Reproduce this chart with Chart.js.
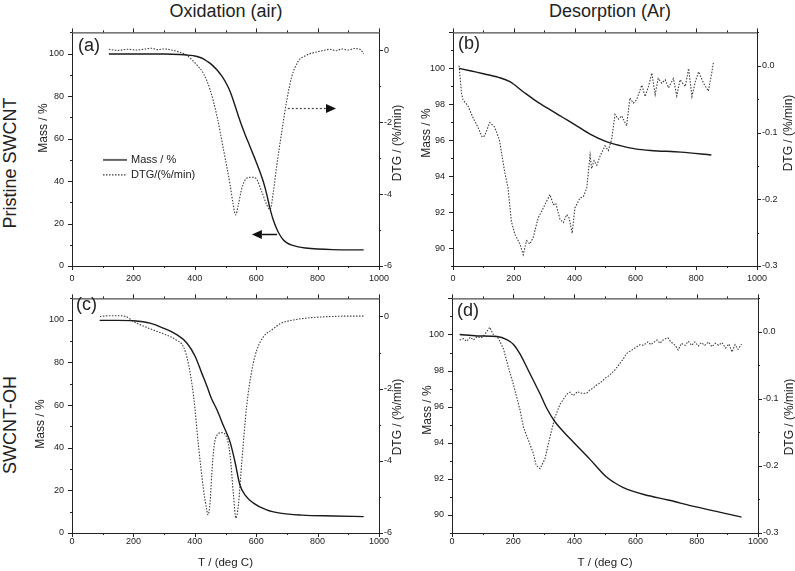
<!DOCTYPE html>
<html>
<head>
<meta charset="utf-8">
<title>TGA / DTG</title>
<script src="https://cdn.jsdelivr.net/npm/chart.js@4.4.1/dist/chart.umd.min.js"></script>
<style>
    body { margin: 0; background: #fff; }
    #page { position: relative; width: 795px; height: 571px; overflow: hidden; font-family: "Liberation Sans", Arial, sans-serif; color: #222; }
    #page canvas { position: absolute; }
    .lbl { position: absolute; white-space: nowrap; line-height: 1; }
    .rot { transform: translate(-50%, -50%) rotate(-90deg); }
    .ctr { transform: translate(-50%, -50%); }
</style>
</head>
<body>
<div id="page">
    <canvas id="chartA" width="390" height="264" style="left:20px;top:22px"></canvas>
    <canvas id="chartB" width="383" height="264" style="left:412px;top:22px"></canvas>
    <canvas id="chartC" width="390" height="283" style="left:20px;top:288px"></canvas>
    <canvas id="chartD" width="383" height="283" style="left:412px;top:288px"></canvas>

    <div class="lbl ctr" style="left:226px;top:11px;font-size:18px">Oxidation (air)</div>
    <div class="lbl ctr" style="left:610px;top:11px;font-size:18px">Desorption (Ar)</div>
    <div class="lbl rot" style="left:10px;top:163px;font-size:18px">Pristine SWCNT</div>
    <div class="lbl rot" style="left:10px;top:425px;font-size:18px">SWCNT-OH</div>

    <div class="lbl rot" style="left:43px;top:128px;font-size:12px">Mass / %</div>
    <div class="lbl rot" style="left:397px;top:143px;font-size:12px">DTG / (%/min)</div>
    <div class="lbl rot" style="left:426px;top:133px;font-size:12px">Mass / %</div>
    <div class="lbl rot" style="left:788px;top:133px;font-size:12px">DTG / (%/min)</div>
    <div class="lbl rot" style="left:40px;top:424px;font-size:12px">Mass / %</div>
    <div class="lbl rot" style="left:397px;top:417px;font-size:12px">DTG / (%/min)</div>
    <div class="lbl rot" style="left:427px;top:410px;font-size:12px">Mass / %</div>
    <div class="lbl rot" style="left:789px;top:417px;font-size:12px">DTG / (%/min)</div>

    <div class="lbl" style="left:78px;top:36px;font-size:18px">(a)</div>
    <div class="lbl" style="left:458px;top:34px;font-size:18px">(b)</div>
    <div class="lbl" style="left:76px;top:295px;font-size:18px">(c)</div>
    <div class="lbl" style="left:457px;top:301px;font-size:18px">(d)</div>
</div>
<script>
// tick labels
var xTicks = [0, 200, 400, 600, 800, 1000];
var massTicksAir = [0, 20, 40, 60, 80, 100];
var dtgTicksAir = [-6, -4, -2, 0];
var massTicksAr = [90, 92, 94, 96, 98, 100];
var dtgTicksAr = [-0.3, -0.2, -0.1, 0.0];

// (a) pristine SWCNT, air
var tempMassA = [120, 200, 300, 350, 384, 400, 415, 428, 440, 450, 461, 472, 483, 493, 504, 515, 525, 533, 543, 553, 565, 580, 595, 610, 623, 634, 645, 656, 667, 677, 688, 700, 716, 737, 760, 800, 850, 900, 950];
var massA = [99.8, 99.8, 99.8, 99.6, 99.2, 98.9, 98.3, 97.5, 96.4, 95.4, 94, 92.4, 90.4, 88.4, 85.6, 82.2, 78.2, 74.6, 70.2, 66, 61.5, 56.2, 50.8, 45.2, 39.8, 34, 27, 21.5, 17.4, 14.6, 12.4, 10.9, 9.8, 9.0, 8.5, 8.0, 7.7, 7.6, 7.6];
var tempDtgA = [120, 150, 180, 210, 240, 260, 280, 300, 330, 350, 365, 380, 395, 410, 428, 450, 472, 493, 515, 525, 533, 542, 553, 569, 585, 599, 618, 634, 645, 656, 667, 683, 700, 716, 737, 760, 780, 800, 820, 840, 860, 880, 900, 920, 940, 950];
var dtgA = [0.03, 0.0, 0.03, 0.01, 0.04, 0.06, 0.02, 0.04, 0.0, -0.05, -0.1, -0.18, -0.3, -0.44, -0.64, -1.1, -1.82, -2.74, -3.74, -4.29, -4.58, -4.29, -3.84, -3.56, -3.53, -3.56, -3.93, -4.29, -4.43, -3.93, -3.2, -2.28, -1.37, -0.73, -0.3, -0.15, -0.08, -0.04, 0.0, 0.03, -0.01, 0.04, 0.01, 0.05, 0.02, -0.1];

// (b) pristine SWCNT, Ar
var tempMassB = [20, 60, 100, 150, 187, 231, 275, 319, 363, 407, 451, 500, 550, 600, 650, 750, 850];
var massB = [100, 99.85, 99.7, 99.5, 99.26, 98.7, 98.16, 97.7, 97.25, 96.8, 96.34, 95.95, 95.7, 95.52, 95.43, 95.34, 95.18];
var tempDtgB = [20, 28, 33, 49, 66, 82, 96, 104, 121, 137, 152, 156, 170, 181, 192, 203, 220, 231, 242, 253, 264, 280, 297, 319, 330, 338, 352, 363, 374, 382, 392, 401, 418, 429, 440, 451, 456, 464, 473, 484, 500, 511, 522, 533, 544, 555, 571, 582, 593, 604, 621, 632, 643, 654, 665, 675, 687, 698, 709, 725, 736, 747, 764, 775, 786, 797, 808, 824, 840, 851, 857];
var dtgB = [0.0, -0.041, -0.051, -0.06, -0.078, -0.092, -0.107, -0.105, -0.085, -0.092, -0.11, -0.12, -0.159, -0.183, -0.233, -0.252, -0.267, -0.283, -0.262, -0.267, -0.257, -0.228, -0.213, -0.193, -0.208, -0.206, -0.23, -0.235, -0.223, -0.228, -0.251, -0.213, -0.198, -0.196, -0.183, -0.134, -0.154, -0.142, -0.149, -0.135, -0.12, -0.127, -0.11, -0.073, -0.08, -0.075, -0.09, -0.048, -0.056, -0.051, -0.029, -0.046, -0.031, -0.011, -0.043, -0.019, -0.026, -0.021, -0.033, -0.019, -0.045, -0.021, -0.031, -0.004, -0.046, -0.024, -0.009, -0.026, -0.038, -0.011, 0.006];

// (c) SWCNT-OH, air
var tempMassC = [90, 150, 200, 254, 297, 341, 374, 401, 422, 439, 455, 471, 493, 515, 531, 547, 564, 591, 634, 678, 750, 850, 950];
var massC = [99.7, 99.7, 99.5, 98.4, 96.1, 93, 89.1, 82.9, 75.2, 69, 62.8, 58.1, 50.4, 42.6, 33.3, 22.5, 17.8, 14, 10.8, 9.3, 8.4, 8, 7.7];
var tempDtgC = [91, 120, 150, 175, 200, 254, 297, 320, 341, 363, 379, 396, 412, 428, 439, 443, 450, 455, 463, 471, 488, 502, 515, 526, 534, 542, 553, 569, 586, 602, 623, 656, 678, 720, 760, 800, 850, 900, 950];
var dtgC = [0.0, 0.02, 0.02, 0.0, -0.14, -0.34, -0.48, -0.56, -0.66, -0.84, -1.3, -2.21, -3.58, -4.77, -5.36, -5.5, -5.13, -4.4, -3.58, -3.31, -3.22, -3.31, -3.85, -4.95, -5.59, -5.22, -4.04, -2.48, -1.48, -0.93, -0.57, -0.34, -0.2, -0.1, -0.05, -0.02, 0.0, 0.01, 0.01];

// (d) SWCNT-OH, Ar
var tempMassD = [25, 82, 147, 179, 201, 223, 244, 266, 288, 310, 337, 365, 397, 451, 505, 530, 560, 590, 630, 706, 794, 946];
var massD = [100, 99.92, 99.89, 99.72, 99.45, 98.9, 98.2, 97.45, 96.7, 95.9, 95.15, 94.6, 94.03, 93.08, 92.1, 91.8, 91.52, 91.32, 91.12, 90.83, 90.46, 89.88];
var tempDtgD = [25, 38, 47, 60, 70, 82, 95, 103, 113, 123, 135, 152, 168, 185, 201, 212, 223, 234, 250, 265, 275, 288, 304, 320, 336, 353, 375, 386, 395, 402, 410, 418, 430, 441, 452, 461, 470, 484, 492, 500, 508, 516, 530, 549, 560, 571, 585, 604, 615, 625, 640, 650, 658, 670, 680, 692, 706, 715, 725, 732, 739, 750, 762, 772, 783, 794, 805, 815, 826, 838, 849, 860, 871, 882, 894, 905, 915, 925, 935, 946];
var dtgD = [-0.012, -0.01, -0.014, -0.008, -0.012, -0.007, -0.009, -0.006, 0.0, 0.007, -0.004, -0.01, -0.025, -0.054, -0.079, -0.098, -0.118, -0.143, -0.162, -0.18, -0.199, -0.204, -0.189, -0.157, -0.128, -0.108, -0.093, -0.09, -0.095, -0.093, -0.089, -0.091, -0.092, -0.091, -0.086, -0.084, -0.08, -0.076, -0.073, -0.069, -0.067, -0.064, -0.058, -0.047, -0.04, -0.032, -0.028, -0.022, -0.019, -0.02, -0.015, -0.019, -0.016, -0.012, -0.017, -0.011, -0.009, -0.015, -0.018, -0.022, -0.027, -0.017, -0.02, -0.014, -0.02, -0.015, -0.021, -0.016, -0.02, -0.015, -0.022, -0.017, -0.02, -0.016, -0.024, -0.018, -0.03, -0.019, -0.026, -0.018];

Chart.defaults.font.family = '"Liberation Sans", Arial, sans-serif';
Chart.defaults.font.size = 9;
Chart.defaults.color = '#1a1a1a';

function toPoints(xs, ys) {
    return xs.map(function (x, i) { return { x: x, y: ys[i] }; });
}

// minor/major marks along a scale, drawn on all sides of the frame
function marks(scale, step) {
    var out = [];
    var n0 = Math.ceil(scale.min / step[0] - 1e-6);
    var n1 = Math.floor(scale.max / step[0] + 1e-6);
    for (var n = n0; n <= n1; n++) {
        var v = n * step[0];
        var r = v / step[1];
        out.push({ v: v, len: Math.abs(r - Math.round(r)) < 1e-6 ? 4 : 2 });
    }
    return out;
}

var frameTicks = {
    id: 'frameTicks',
    afterDraw: function (chart, args, opts) {
        var ctx = chart.ctx, a = chart.chartArea;
        var sx = chart.scales.x, sy = chart.scales.y, sy1 = chart.scales.y1;
        ctx.save();
        ctx.strokeStyle = '#222';
        ctx.lineWidth = 1;
        ctx.setLineDash([]);
        ctx.strokeRect(a.left + 0.5, a.top + 0.5, a.right - a.left, a.bottom - a.top);
        ctx.beginPath();
        marks(sx, opts.x).forEach(function (m) {
            var p = Math.round(sx.getPixelForValue(m.v)) + 0.5;
            ctx.moveTo(p, a.bottom); ctx.lineTo(p, a.bottom + m.len);
            ctx.moveTo(p, a.top); ctx.lineTo(p, a.top - m.len);
        });
        marks(sy, opts.y).forEach(function (m) {
            var p = Math.round(sy.getPixelForValue(m.v)) + 0.5;
            ctx.moveTo(a.left, p); ctx.lineTo(a.left - m.len, p);
        });
        marks(sy1, opts.y1).forEach(function (m) {
            var p = Math.round(sy1.getPixelForValue(m.v)) + 0.5;
            ctx.moveTo(a.right, p); ctx.lineTo(a.right + m.len, p);
        });
        ctx.stroke();
        ctx.restore();
    }
};

// arrows and the small legend of panel (a)
var notes = {
    id: 'notes',
    afterDatasetsDraw: function (chart, args, opts) {
        var ctx = chart.ctx, a = chart.chartArea, sx = chart.scales.x;
        ctx.save();
        (opts.arrows || []).forEach(function (it) {
            var sy = chart.scales[it.axis];
            var x0 = sx.getPixelForValue(it.from), x1 = sx.getPixelForValue(it.to), y = Math.round(sy.getPixelForValue(it.y)) + 0.5;
            var dir = x1 > x0 ? 1 : -1, head = 10;
            ctx.strokeStyle = it.color;
            ctx.lineWidth = it.width;
            ctx.setLineDash(it.dash);
            ctx.beginPath();
            ctx.moveTo(x0, y);
            ctx.lineTo(x1 - dir * head, y);
            ctx.stroke();
            ctx.setLineDash([]);
            ctx.fillStyle = '#111';
            ctx.beginPath();
            ctx.moveTo(x1, y);
            ctx.lineTo(x1 - dir * head, y - 4.5);
            ctx.lineTo(x1 - dir * head, y + 4.5);
            ctx.closePath();
            ctx.fill();
        });
        if (opts.legend) {
            ctx.font = '11px "Liberation Sans", Arial, sans-serif';
            ctx.textBaseline = 'middle';
            chart.data.datasets.forEach(function (ds, i) {
                var y = a.top + opts.legend.top + i * opts.legend.gap + 0.5;
                var x = a.left + opts.legend.left;
                ctx.strokeStyle = i === 0 ? '#666' : ds.borderColor;
                ctx.lineWidth = i === 0 ? 2 : ds.borderWidth;
                ctx.setLineDash(ds.borderDash || []);
                ctx.beginPath();
                ctx.moveTo(x, y);
                ctx.lineTo(x + 24, y);
                ctx.stroke();
                ctx.setLineDash([]);
                ctx.fillStyle = '#222';
                ctx.fillText(ds.label, x + 28, y);
            });
        }
        ctx.restore();
    }
};

function axis(pos, min, max, ticks, size, fmt, pad) {
    return {
        type: 'linear',
        position: pos,
        min: min,
        max: max,
        grid: { drawOnChartArea: false, tickLength: 3, tickColor: 'rgba(0,0,0,0)' },
        border: { display: false },
        ticks: { padding: pad, color: '#1a1a1a', font: { size: 9 }, autoSkip: false, maxRotation: 0, callback: fmt },
        afterBuildTicks: function (s) {
            s.ticks = ticks.map(function (v) { return { value: v }; });
        },
        afterFit: function (s) {
            if (s.isHorizontal()) s.height = size; else s.width = size;
        }
    };
}

function plain(v) { return String(v); }
function oneDec(v) { return v.toFixed(1); }

function makePanel(id, p) {
    var x = axis('bottom', 0, 1000, xTicks, p.xh, plain, p.xpad);
    if (p.xTitle) {
        x.title = { display: true, text: 'T / (deg C)', color: '#222', font: { size: 11.5 }, padding: { top: 0, bottom: 1 } };
    }
    var config = {
        type: 'line',
        data: {
            datasets: [
                {
                    label: 'Mass / %',
                    data: toPoints(p.tm, p.m),
                    yAxisID: 'y',
                    borderColor: '#1a1a1a',
                    borderWidth: 1.4,
                    pointRadius: 0,
                    cubicInterpolationMode: 'monotone'
                },
                {
                    label: 'DTG/(%/min)',
                    data: toPoints(p.td, p.d),
                    yAxisID: 'y1',
                    borderColor: '#3c3c3c',
                    borderWidth: 1.1,
                    borderDash: [1.5, 1.5],
                    pointRadius: 0,
                    tension: 0,
                    cubicInterpolationMode: p.smooth ? 'monotone' : 'default'
                }]
        },
        options: {
            responsive: false,
            animation: false,
            events: [],
            layout: { padding: { top: p.top, left: 0, right: 0, bottom: 0 } },
            scales: {
                x: x,
                y: axis('left', p.ym[0], p.ym[1], p.ymTicks, p.yw, p.ymFmt, 5),
                y1: axis('right', p.yd[0], p.yd[1], p.ydTicks, p.y1w, p.ydFmt, 2)
            },
            plugins: {
                legend: { display: false },
                tooltip: { enabled: false },
                frameTicks: { x: [100, 200], y: p.ymStep, y1: p.ydStep },
                notes: { arrows: p.arrows || [], legend: p.legend || null }
            }
        },
        plugins: [frameTicks, notes]
    };
    return new Chart(document.getElementById(id), config);
}

window.addEventListener("load", function () {
    makePanel('chartA', {
        tm: tempMassA, m: massA, td: tempDtgA, d: dtgA, smooth: true,
        ym: [0, 110], ymTicks: massTicksAir, ymStep: [10, 20], ymFmt: plain,
        yd: [-6, 0.5], ydTicks: dtgTicksAir, ydStep: [1, 2], ydFmt: plain,
        top: 7, yw: 52, y1w: 31, xh: 20, xpad: 4,
        arrows: [
            { axis: 'y1', y: -1.6, from: 703, to: 860, dash: [2, 2], color: '#444', width: 1.2 },
            { axis: 'y', y: 15.3, from: 668, to: 586, dash: [], color: '#111', width: 1.5 }
        ],
        legend: { left: 31, top: 127, gap: 15 }
    });
    makePanel('chartB', {
        tm: tempMassB, m: massB, td: tempDtgB, d: dtgB, smooth: false,
        ym: [89, 102], ymTicks: massTicksAr, ymStep: [1, 2], ymFmt: plain,
        yd: [-0.3, 0.05], ydTicks: dtgTicksAr, ydStep: [0.05, 0.1], ydFmt: oneDec,
        top: 7, yw: 41, y1w: 38, xh: 20, xpad: 4
    });
    makePanel('chartC', {
        tm: tempMassC, m: massC, td: tempDtgC, d: dtgC, smooth: true,
        ym: [0, 110], ymTicks: massTicksAir, ymStep: [10, 20], ymFmt: plain,
        yd: [-6, 0.5], ydTicks: dtgTicksAir, ydStep: [1, 2], ydFmt: plain,
        top: 7, yw: 52, y1w: 31, xh: 38, xpad: 0, xTitle: true
    });
    makePanel('chartD', {
        tm: tempMassD, m: massD, td: tempDtgD, d: dtgD, smooth: false,
        ym: [89, 102], ymTicks: massTicksAr, ymStep: [1, 2], ymFmt: plain,
        yd: [-0.3, 0.05], ydTicks: dtgTicksAr, ydStep: [0.05, 0.1], ydFmt: oneDec,
        top: 7, yw: 40, y1w: 37, xh: 38, xpad: 0, xTitle: true
    });
}, false);
</script>
</body>
</html>
